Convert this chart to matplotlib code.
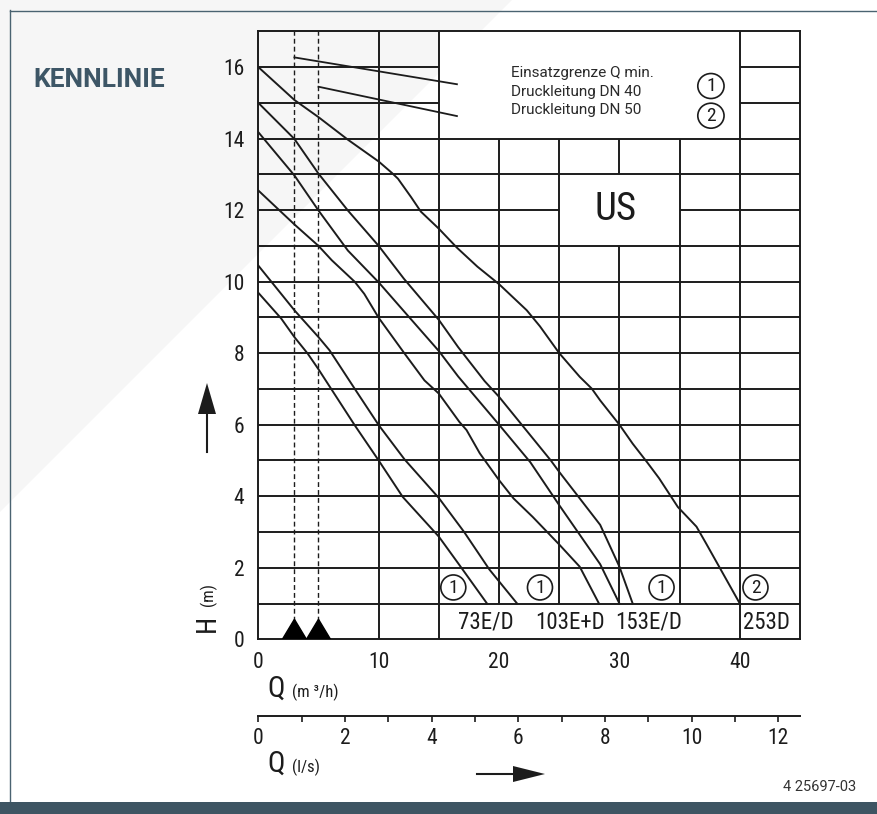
import matplotlib
matplotlib.use('Agg')
import matplotlib.pyplot as plt
from matplotlib.patches import Polygon, Ellipse, Rectangle
from matplotlib.lines import Line2D

W, H = 878, 814

# ---------------- data ----------------
q_253D = [0, 3, 5, 7.44, 10, 11.1, 11.6, 12.7, 13.5, 15, 16.5, 18.2, 20, 22.3, 23.4, 25,
          26.7, 27.7, 28.4, 30, 31.1, 32.3, 33.3, 34.85, 36.4, 37.2, 40]
h_253D = [16, 15.08, 14.6, 13.97, 13.36, 13.04, 12.88, 12.36, 11.96, 11.48, 10.95, 10.42, 9.93, 9.2,
          8.75, 8.0, 7.34, 7.01, 6.68, 6.0, 5.47, 4.95, 4.5, 3.7, 3.15, 2.68, 1.0]

q_153_a = [0, 3, 5, 7.44, 10, 12.1, 15, 16.6, 18.8, 20, 24.3, 25, 28.4, 30, 31.1]
h_153_a = [15, 13.99, 13.02, 11.99, 11.0, 10.08, 8.93, 8.17, 7.22, 6.78, 5.0, 4.68, 3.2, 2.03, 1.0]

q_153_b = [0, 3, 5, 7.44, 10, 12.55, 15, 16.6, 20, 22.6, 25, 28.4, 30]
h_153_b = [14.18, 12.97, 11.99, 10.87, 9.98, 9.0, 8.06, 7.35, 6.0, 4.95, 3.75, 2.1, 1.0]

q_103 = [0, 3, 5, 6.1, 8, 8.8, 10, 12.15, 13.8, 15, 16.7, 17.3, 18.4, 20, 21.2, 22.8, 25, 26.7, 28.3]
h_103 = [12.55, 11.6, 11.0, 10.6, 10.0, 9.66, 8.99, 7.99, 7.24, 6.87, 6.08, 5.85, 5.2, 4.45, 3.94,
         3.42, 2.65, 2.03, 1.0]

q_73_a = [0, 1.08, 3, 5, 5.92, 8, 10, 12.15, 15, 17.1, 18.2, 19.2, 21.5]
h_73_a = [10.45, 10.0, 9.2, 8.45, 8.08, 7.01, 5.99, 5.03, 3.95, 3.0, 2.45, 1.95, 1.0]

q_73_b = [0, 1.9, 3, 4.1, 5, 8, 10, 12, 15, 16.7, 19.0]
h_73_b = [9.69, 8.97, 8.45, 7.99, 7.55, 5.99, 5.0, 3.98, 2.87, 2.08, 1.0]

curves = [(q_253D, h_253D), (q_153_a, h_153_a), (q_153_b, h_153_b),
          (q_103, h_103), (q_73_a, h_73_a), (q_73_b, h_73_b)]

# Q min (Einsatzgrenze) positions and limit lines
qmin_x = [3, 5]
qmin_line_start_h = [16.27, 15.45]
qmin_line_end_x = [16.5, 16.5]
qmin_line_end_h = [15.52, 14.63]

# labels
pump_labels = ['73E/D', '103E+D', '153E/D', '253D']
pump_label_x = [18.9, 25.9, 32.4, 42.2]
circle_labels = ['1', '1', '1', '2']
circle_x = [16.2, 23.4, 33.5, 41.3]
legend_lines = ['Einsatzgrenze Q min.', 'Druckleitung DN 40', 'Druckleitung DN 50']

h_ticks = list(range(0, 17, 2))
q_ticks = [0, 10, 20, 30, 40]
ls_ticks = list(range(0, 13, 2))
ls_minor = list(range(0, 13, 1))

NARROW = ['Liberation Sans Narrow', 'Roboto Condensed', 'DejaVu Sans']
SANS = ['Roboto', 'DejaVu Sans']
INK = '#1c1c1c'

def fx(px):
    return px / W

def fy(py):
    return 1 - py / H

fig = plt.figure(figsize=(W / 100, H / 100), dpi=100)
fig.patch.set_facecolor('white')

# background decorations
fig.patches.append(Polygon([(fx(0), fy(0)), (fx(512), fy(0)), (fx(0), fy(512))],
                           closed=True, transform=fig.transFigure, facecolor='#f6f6f6',
                           edgecolor='none', zorder=-5))
fig.add_artist(Line2D([fx(10), fx(878)], [fy(10.5), fy(10.5)], transform=fig.transFigure,
                      color='#4a6371', lw=1.0, zorder=-4))
fig.add_artist(Line2D([fx(10.5), fx(10.5)], [fy(10), fy(802)], transform=fig.transFigure,
                      color='#4a6371', lw=1.0, zorder=-4))
fig.patches.append(Rectangle((0, 0), 1, 12 / H, transform=fig.transFigure,
                             facecolor='#3e5563', edgecolor='none', zorder=-4))

# main axes
x0, x1 = 258.3, 800.0
y_bot, y_top = 639.3, 31.3
ax = fig.add_axes([fx(x0), fy(y_bot), (x1 - x0) / W, (y_bot - y_top) / H])
ax.set_xlim(0, 45)
ax.set_ylim(0, 17)
ax.patch.set_alpha(0)
for s in ax.spines.values():
    s.set_linewidth(1.4)
    s.set_color(INK)

# legend box white fill
ax.add_patch(Rectangle((15, 14), 25, 3, facecolor='white', edgecolor='none', zorder=0.5))

glw = 1.4
def hseg(y, xa, xb):
    ax.plot([xa, xb], [y, y], color=INK, lw=glw, solid_capstyle='butt', zorder=1)

def vseg(x, ya, yb):
    ax.plot([x, x], [ya, yb], color=INK, lw=glw, solid_capstyle='butt', zorder=1)

for y in range(1, 17):
    if y in (15, 16):
        hseg(y, 0, 15)
        hseg(y, 40, 45)
    elif y == 12:
        hseg(y, 0, 25)
        hseg(y, 35, 45)
    else:
        hseg(y, 0, 45)

vseg(10, 0, 17)
vseg(15, 0, 17)
vseg(40, 0, 17)
vseg(20, 1, 14)
vseg(25, 1, 14)
vseg(35, 1, 14)
vseg(30, 1, 11)
vseg(30, 13, 14)

# dashed Q min lines
for qx in qmin_x:
    ax.plot([qx, qx], [0.3, 17], color=INK, lw=1.0, dashes=(3.5, 2.2), zorder=1)
    ax.fill([qx - 1, qx, qx + 1], [0, 0.56, 0], color='black', zorder=3)

for xs, ys, xe, ye in zip(qmin_x, qmin_line_start_h, qmin_line_end_x, qmin_line_end_h):
    ax.plot([xs, xe], [ys, ye], color=INK, lw=1.3, zorder=2)

# pump curves
for q, h in curves:
    ax.plot(q, h, color=INK, lw=1.4, zorder=2, solid_joinstyle='round')

# bottom labels
for t, x in zip(pump_labels, pump_label_x):
    ax.text(x, 0.47, t, ha='center', va='center', fontsize=16.5, family=NARROW, color=INK)

# circled numbers
cw, ch = 25 / 12.04, 25 / 35.77
for t, x in zip(circle_labels, circle_x):
    ax.add_patch(Ellipse((x, 1.45), cw, ch, facecolor='none', edgecolor=INK, lw=1.2, zorder=3))
    ax.text(x, 1.44, t, ha='center', va='center', fontsize=14, family=NARROW, color=INK)

# legend
for i, t in enumerate(legend_lines):
    ax.text(21.0, 15.83 - i * 0.52, t, ha='left', va='center', fontsize=11, family=SANS,
            color='#2a2a2a')
for t, yy in zip(['1', '2'], [15.47, 14.64]):
    ax.add_patch(Ellipse((37.6, yy), cw * 1.05, ch, facecolor='none', edgecolor=INK, lw=1.2, zorder=3))
    ax.text(37.6, yy - 0.01, t, ha='center', va='center', fontsize=14, family=NARROW, color=INK)

# US
ax.text(29.7, 12.02, 'US', ha='center', va='center', fontsize=28, family=NARROW, color=INK)

# ticks
ax.set_yticks(h_ticks)
ax.set_xticks(q_ticks)
ax.tick_params(axis='both', length=0, labelsize=15.5, colors=INK)
ax.tick_params(axis='y', pad=10)
ax.tick_params(axis='x', pad=9)
for lab in ax.get_xticklabels() + ax.get_yticklabels():
    lab.set_family(NARROW)

# second axis l/s
ax2 = fig.add_axes([fx(x0), fy(716), (x1 - x0) / W, 0.0001])
ax2.set_xlim(0, 45 / 3.6)
ax2.patch.set_alpha(0)
for k in ('top', 'left', 'right'):
    ax2.spines[k].set_visible(False)
ax2.spines['bottom'].set_linewidth(1.4)
ax2.spines['bottom'].set_color(INK)
ax2.set_yticks([])
ax2.set_xticks(ls_minor, minor=True)
ax2.set_xticks(ls_ticks)
ax2.tick_params(axis='x', which='both', direction='out', length=4.5, width=1.2, colors=INK,
                labelsize=15.5, pad=4)
ax2.tick_params(axis='x', which='minor', labelbottom=False)
for lab in ax2.get_xticklabels():
    lab.set_family(NARROW)

# axis titles
fig.text(fx(267), fy(689), 'Q', ha='left', va='center', fontsize=21, family=NARROW, color=INK)
fig.text(fx(292), fy(692), '(m ³/h)', ha='left', va='center', fontsize=12, family=NARROW, color=INK)
fig.text(fx(267), fy(764), 'Q', ha='left', va='center', fontsize=21, family=NARROW, color=INK)
fig.text(fx(292), fy(767), '(l/s)', ha='left', va='center', fontsize=12, family=NARROW, color=INK)
fig.text(fx(207), fy(623), 'H', ha='center', va='center', rotation=90, fontsize=20,
         family=NARROW, color=INK)
fig.text(fx(208), fy(594), '(m)', ha='center', va='center', rotation=90, fontsize=12,
         family=NARROW, color=INK)

# arrows
fig.add_artist(Line2D([fx(207), fx(207)], [fy(452), fy(410)], transform=fig.transFigure,
                      color=INK, lw=1.5))
fig.patches.append(Polygon([(fx(198), fy(414)), (fx(216), fy(414)), (fx(207), fy(383))],
                           closed=True, transform=fig.transFigure, facecolor=INK, edgecolor='none'))
fig.add_artist(Line2D([fx(477), fx(516)], [fy(774), fy(774)], transform=fig.transFigure,
                      color=INK, lw=1.5))
fig.patches.append(Polygon([(fx(513), fy(766)), (fx(513), fy(782)), (fx(545), fy(774))],
                           closed=True, transform=fig.transFigure, facecolor=INK, edgecolor='none'))

# title and code
fig.text(fx(33), fy(80), 'KENNLINIE', ha='left', va='center', fontsize=19, fontweight='bold',
         family=SANS, color='#3d5666')
fig.text(fx(856), fy(787), '4 25697-03', ha='right', va='center', fontsize=10.5, family=SANS,
         color='#333333')

fig.savefig('out.png', dpi=100)
